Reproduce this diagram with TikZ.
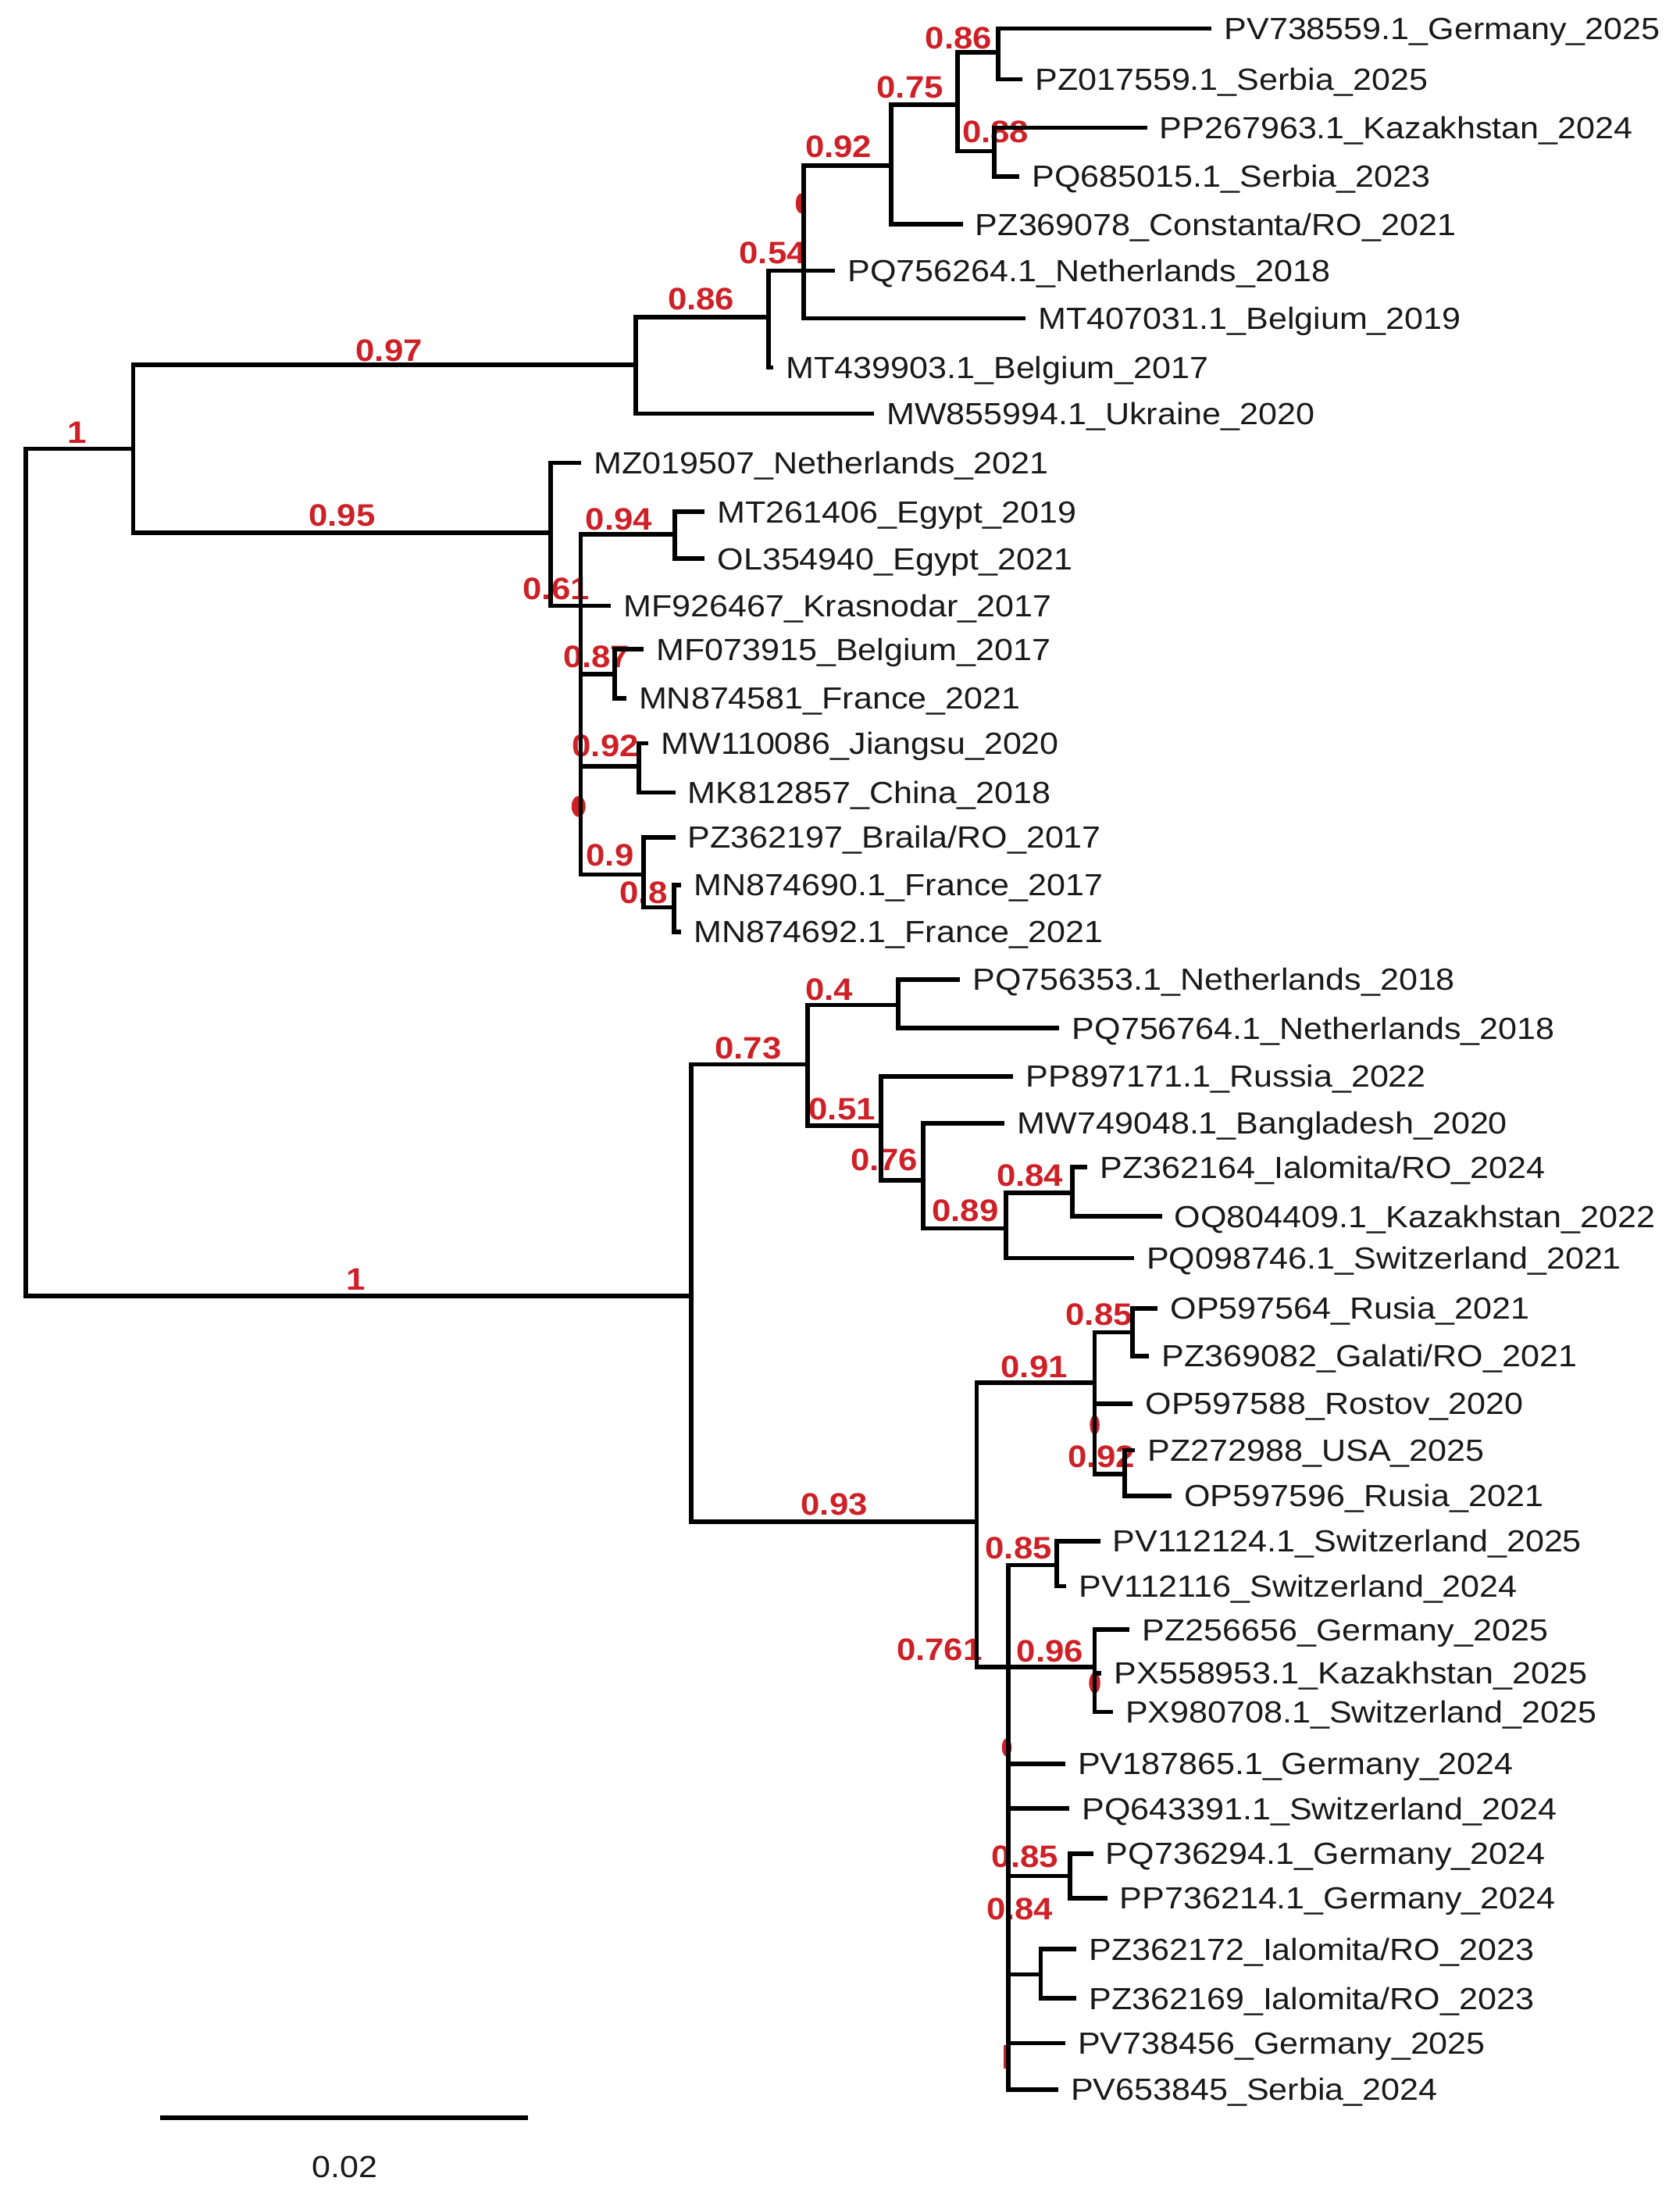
\documentclass[tikz,border=0pt]{standalone}
\usepackage{fontspec}
\newfontfamily\treefont[FakeStretch=1.10]{Liberation Sans}
\usetikzlibrary{calc}
\definecolor{suppred}{RGB}{206,32,38}
\tikzset{
  leaf/.style={anchor=west,inner xsep=0.1cm,inner ysep=0pt,text height=4.4pt,text depth=0pt,font=\treefont\fontsize{6.2}{7}\selectfont,text=black!90},
  supp/.style={inner sep=0pt,text height=4.5pt,text depth=0pt,font=\treefont\bfseries\fontsize{6.3}{7}\selectfont,text=suppred},
  suppmark/.style={fill=suppred},
  branch/.style={line width=0.9pt,line cap=rect,line join=miter,black},
  scalelab/.style={inner sep=0pt,text height=4.4pt,text depth=0pt,font=\treefont\fontsize{6.2}{7}\selectfont,text=black!90},
}

\begin{document}
\begin{tikzpicture}[x=0.01cm,y=-0.01cm]

  \useasboundingbox (0,0) rectangle (1198,1568);

  % internal nodes
  \coordinate (root)  at (18.5,622);
  \coordinate (nA)    at (95,320);
  \coordinate (nB)    at (453.5,260);
  \coordinate (nC)    at (548,226);
  \coordinate (nE)    at (573,193);
  \coordinate (n092)  at (635.5,118);
  \coordinate (n075)  at (683,74.6);
  \coordinate (n086)  at (712,37.3);
  \coordinate (n088)  at (709,107.7);
  \coordinate (nF)    at (392.8,380);
  \coordinate (nG)    at (414.2,432);
  \coordinate (n094)  at (481.3,381);
  \coordinate (n087)  at (438.2,480.5);
  \coordinate (n092b) at (455.7,546.4);
  \coordinate (n09)   at (459,623.5);
  \coordinate (n08)   at (480.8,647);
  \coordinate (nH)    at (493,924);
  \coordinate (n073)  at (576,759);
  \coordinate (n04)   at (640.7,716.6);
  \coordinate (n051)  at (628.3,802.7);
  \coordinate (n076)  at (658.3,841.6);
  \coordinate (n089)  at (717.4,875.8);
  \coordinate (n084)  at (764.6,850.7);
  \coordinate (nJ)    at (696.6,1085);
  \coordinate (nK)    at (780.7,986);
  \coordinate (n085a) at (807.8,950);
  \coordinate (n092c) at (802,1051);
  \coordinate (nM)    at (719,1188.7);
  \coordinate (n085b) at (753.5,1116);
  \coordinate (nN)    at (780.7,1188.7);
  \coordinate (n085c) at (763,1337.6);
  \coordinate (nIal)  at (742.3,1407.8);

  % CLADE 1: upper
  \node[leaf] (pv738559) at (862.5,20.3) {PV738559.1\_Germany\_2025};
  \node[leaf] (pz017559) at (727.5,56.5) {PZ017559.1\_Serbia\_2025};
  \node[leaf] (pp267963) at (816.4,91)   {PP267963.1\_Kazakhstan\_2024};
  \node[leaf] (pq685015) at (725.5,125.8) {PQ685015.1\_Serbia\_2023};
  \node[leaf] (pz369078) at (685,160)    {PZ369078\_Constanta/RO\_2021};
  \node[leaf] (pq756264) at (594,193)    {PQ756264.1\_Netherlands\_2018};
  \node[leaf] (mt407031) at (730,227)    {MT407031.1\_Belgium\_2019};
  \node[leaf] (mt439903) at (550,262)    {MT439903.1\_Belgium\_2017};
  \node[leaf] (mw855994) at (621.6,295)  {MW855994.1\_Ukraine\_2020};

  % CLADE 2: middle
  \node[leaf] (mz019507) at (413,330)    {MZ019507\_Netherlands\_2021};
  \node[leaf] (mt261406) at (501,365)    {MT261406\_Egypt\_2019};
  \node[leaf] (ol354940) at (501,398.4)  {OL354940\_Egypt\_2021};
  \node[leaf] (mf926467) at (434,432)    {MF926467\_Krasnodar\_2017};
  \node[leaf] (mf073915) at (457.4,463)  {MF073915\_Belgium\_2017};
  \node[leaf] (mn874581) at (445,498)    {MN874581\_France\_2021};
  \node[leaf] (mw110086) at (461,530)    {MW110086\_Jiangsu\_2020};
  \node[leaf] (mk812857) at (480,565)    {MK812857\_China\_2018};
  \node[leaf] (pz362197) at (480,597)    {PZ362197\_Braila/RO\_2017};
  \node[leaf] (mn874690) at (484,631)    {MN874690.1\_France\_2017};
  \node[leaf] (mn874692) at (484,664.5)  {MN874692.1\_France\_2021};

  % CLADE 3: lower
  \node[leaf] (pq756353) at (683,698.3)  {PQ756353.1\_Netherlands\_2018};
  \node[leaf] (pq756764) at (754,733.2)  {PQ756764.1\_Netherlands\_2018};
  \node[leaf] (pp897171) at (721,767.5)  {PP897171.1\_Russia\_2022};
  \node[leaf] (mw749048) at (715,800.8)  {MW749048.1\_Bangladesh\_2020};
  \node[leaf] (pz362164) at (774,832.3)  {PZ362164\_Ialomita/RO\_2024};
  \node[leaf] (oq804409) at (827,867.4)  {OQ804409.1\_Kazakhstan\_2022};
  \node[leaf] (pq098746) at (807,897)    {PQ098746.1\_Switzerland\_2021};

  % CLADE 4: bottom
  \node[leaf] (op597564) at (824,932.8)  {OP597564\_Rusia\_2021};
  \node[leaf] (pz369082) at (818,967)    {PZ369082\_Galati/RO\_2021};
  \node[leaf] (op597588) at (806.3,1001) {OP597588\_Rostov\_2020};
  \node[leaf] (pz272988) at (808,1034)   {PZ272988\_USA\_2025};
  \node[leaf] (op597596) at (834,1066.7) {OP597596\_Rusia\_2021};
  \node[leaf] (pv112124) at (783,1099)   {PV112124.1\_Switzerland\_2025};
  \node[leaf] (pv112116) at (759,1131)   {PV112116\_Switzerland\_2024};
  \node[leaf] (pz256656) at (804,1162)   {PZ256656\_Germany\_2025};
  \node[leaf] (px558953) at (784,1193)   {PX558953.1\_Kazakhstan\_2025};
  \node[leaf] (px980708) at (792,1220.7) {PX980708.1\_Switzerland\_2025};
  \node[leaf] (pv187865) at (758,1257.6) {PV187865.1\_Germany\_2024};
  \node[leaf] (pq643391) at (761,1289.6) {PQ643391.1\_Switzerland\_2024};
  \node[leaf] (pq736294) at (778,1321.6) {PQ736294.1\_Germany\_2024};
  \node[leaf] (pp736214) at (788,1353.5) {PP736214.1\_Germany\_2024};
  \node[leaf] (pz362172) at (766,1389.8) {PZ362172\_Ialomita/RO\_2023};
  \node[leaf] (pz362169) at (766,1425)   {PZ362169\_Ialomita/RO\_2023};
  \node[leaf] (pv738456) at (758,1456.8) {PV738456\_Germany\_2025};
  \node[leaf] (pv653845) at (753,1490)   {PV653845\_Serbia\_2024};

  % support values (under the branches)
  \node[supp] (sA)    at (55,308)      {1};
  \node[supp] (sB)    at (277.5,249.5) {0.97};
  \node[supp] (sF)    at (244,367)     {0.95};
  \node[supp] (sC)    at (500,213)     {0.86};
  \node[supp] (sE)    at (551,180)     {0.54};
  \node[supp] (s092)  at (598,104.5)   {0.92};
  \node[supp] (s075)  at (649,62)      {0.75};
  \node[supp] (s086)  at (683.6,26.7)  {0.86};
  \node[supp] (s088)  at (710,94)      {0.88};
  \node[supp] (s094)  at (441.4,369.8) {0.94};
  \node[supp] (sG)    at (396.7,419.5) {0.61};
  \node[supp] (s087)  at (425.4,468)   {0.87};
  \node[supp] (s092b) at (431.8,531.5) {0.92};
  \node[supp] (s09)   at (435,609.8)   {0.9};
  \node[supp] (s08)   at (459,636)     {0.8};
  \node[supp] (sH)    at (254,912)     {1};
  \node[supp] (s073)  at (533.6,747)   {0.73};
  \node[supp] (s04)   at (591.3,705.5) {0.4};
  \node[supp] (s051)  at (600.6,790.6) {0.51};
  \node[supp] (s076)  at (630.6,826.8) {0.76};
  \node[supp] (s089)  at (688.4,862.8) {0.89};
  \node[supp] (s084)  at (734.5,838)   {0.84};
  \node[supp] (sJ)    at (595,1072.4)  {0.93};
  \node[supp] (sK)    at (737.6,974.4) {0.91};
  \node[supp] (s085a) at (783.8,937)   {0.85};
  \node[supp] (s092c) at (785.5,1038.5) {0.92};
  \node[supp] (s085b) at (726.4,1103.4) {0.85};
  \node[supp] (sM)    at (670,1176)    {0.761};
  \node[supp] (sN)    at (748.8,1177)  {0.96};
  \node[supp] (s085c) at (731,1323.7)  {0.85};
  \node[supp] (sIal)  at (727.3,1361)  {0.84};

  % hidden support marks
  \fill[suppmark] (571,145) ellipse (3.5 and 7);
  \fill[suppmark] (412.6,575) ellipse (5 and 7.5);
  \fill[suppmark] (780.7,1016) ellipse (3.5 and 7);
  \fill[suppmark] (780.7,1200) ellipse (4 and 7.5);
  \fill[suppmark] (718,1246) ellipse (3.5 and 6.5);
  \fill[suppmark] (716,1458) rectangle (720,1475);

  % branches
  \draw[branch] (root) |- (nA) (root) |- (nH);
  \draw[branch] (nA) |- (nB) (nA) |- (nF);
  \draw[branch] (nB) |- (nC) (nB) |- (mw855994.west);
  \draw[branch] (nC) |- (nE) (nC) |- (mt439903.west);
  \draw[branch] (nE) |- (n092) (nE) |- (pq756264.west) (nE) |- (mt407031.west);
  \draw[branch] (n092) |- (n075) (n092) |- (pz369078.west);
  \draw[branch] (n075) |- (n086) (n075) |- (n088);
  \draw[branch] (n086) |- (pv738559.west) (n086) |- (pz017559.west);
  \draw[branch] (n088) |- (pp267963.west) (n088) |- (pq685015.west);

  \draw[branch] (nF) |- (mz019507.west) (nF) |- (nG);
  \draw[branch] (nG) |- (n094) (nG) |- (mf926467.west) (nG) |- (n087) (nG) |- (n092b) (nG) |- (n09);
  \draw[branch] (n094) |- (mt261406.west) (n094) |- (ol354940.west);
  \draw[branch] (n087) |- (mf073915.west) (n087) |- (mn874581.west);
  \draw[branch] (n092b) |- (mw110086.west) (n092b) |- (mk812857.west);
  \draw[branch] (n09) |- (pz362197.west) (n09) |- (n08);
  \draw[branch] (n08) |- (mn874690.west) (n08) |- (mn874692.west);

  \draw[branch] (nH) |- (n073) (nH) |- (nJ);
  \draw[branch] (n073) |- (n04) (n073) |- (n051);
  \draw[branch] (n04) |- (pq756353.west) (n04) |- (pq756764.west);
  \draw[branch] (n051) |- (pp897171.west) (n051) |- (n076);
  \draw[branch] (n076) |- (mw749048.west) (n076) |- (n089);
  \draw[branch] (n089) |- (n084) (n089) |- (pq098746.west);
  \draw[branch] (n084) |- (pz362164.west) (n084) |- (oq804409.west);

  \draw[branch] (nJ) |- (nK) (nJ) |- (nM);
  \draw[branch] (nK) |- (n085a) (nK) |- (op597588.west) (nK) |- (n092c);
  \draw[branch] (n085a) |- (op597564.west) (n085a) |- (pz369082.west);
  \draw[branch] (n092c) |- (pz272988.west) (n092c) |- (op597596.west);
  \draw[branch] (nM) |- (n085b) (nM) |- (nN) (nM) |- (pv187865.west) (nM) |- (pq643391.west);
  \draw[branch] (nM) |- (n085c) (nM) |- (nIal) (nM) |- (pv738456.west) (nM) |- (pv653845.west);
  \draw[branch] (n085b) |- (pv112124.west) (n085b) |- (pv112116.west);
  \draw[branch] (nN) |- (pz256656.west) (nN) |- (px558953.west) (nN) |- (px980708.west);
  \draw[branch] (n085c) |- (pq736294.west) (n085c) |- (pp736214.west);
  \draw[branch] (nIal) |- (pz362172.west) (nIal) |- (pz362169.west);

  % scale bar
  \coordinate (sbl) at (116,1510);
  \coordinate (sbr) at (375,1510);
  \draw[branch] (sbl) -- (sbr);
  \node[scalelab] (sblab) at (246,1545) {0.02};

\end{tikzpicture}
\end{document}
